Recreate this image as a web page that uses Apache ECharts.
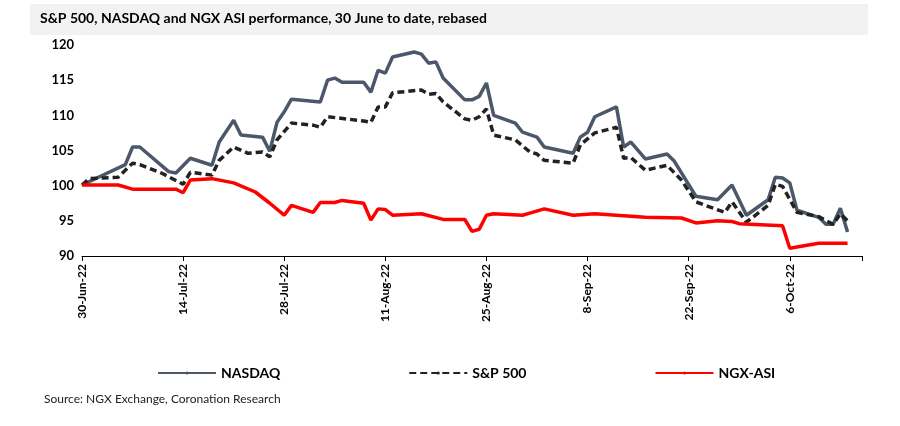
<!DOCTYPE html>
<html><head><meta charset="utf-8">
<script src="https://cdn.jsdelivr.net/npm/echarts@6/dist/echarts.min.js"></script>
<style>html,body{margin:0;padding:0;background:#fff}#c{width:900px;height:426px}</style>
</head><body><div id="c"></div>
<script>
// x = days since 30-Jun-22
const tickLabels = ['30-Jun-22','14-Jul-22','28-Jul-22','11-Aug-22','25-Aug-22','8-Sep-22','22-Sep-22','6-Oct-22'];

const nasdaqDays = [0,6,7,8,12,13,15,18,19,21,22,25,26,27,28,29,33,34,35,36,39,40,41,42,43,46,47,48,49,50,53,54,55,56,57,60,61,63,64,68,69,70,71,74,75,76,78,81,82,85,88,90,92,95,96,97,98,99,102,103,104,105,106];
const nasdaqVals = [100.1,103,105.5,105.5,102,101.8,103.9,102.9,106.2,109.3,107.2,106.9,104.9,109,110.5,112.3,111.9,115,115.3,114.7,114.7,113.3,116.4,116,118.3,119,118.7,117.4,117.6,115.3,112.2,112.2,112.7,114.6,110,108.9,107.6,106.9,105.5,104.6,106.9,107.6,109.8,111.2,105.5,106.2,103.8,104.5,103.5,98.5,98,100.1,95.8,98,101.2,101.1,100.4,96.5,95.5,94.5,94.5,96.8,93.4];

const spDays = [0,1,5,7,8,11,14,15,18,19,21,23,25,26,27,29,32,33,34,39,40,41,42,43,47,48,49,50,53,54,55,56,57,60,62,63,64,68,69,71,74,75,76,78,81,83,85,89,90,92,95,96,97,99,102,104,105,106];
const spVals = [100.1,101,101.2,103.2,103,101.8,100.2,101.9,101.5,103.6,105.5,104.6,104.8,104.1,106.5,108.9,108.6,108.3,109.8,109.2,109,111.2,111.2,113.2,113.6,113,113.1,111.9,109.5,109.3,109.8,110.9,107.2,106.5,104.8,104.5,103.6,103.2,105.8,107.5,108.3,103.9,104,102.2,102.9,100.8,97.7,96.2,97.7,94.8,97.2,100.2,99.9,96.2,95.6,94.5,96,95];

const ngxDays = [0,5,7,13,14,15,18,21,24,26,28,29,32,33,35,36,39,40,41,42,43,47,50,53,54,55,56,57,61,62,64,68,71,78,83,85,88,90,91,97,98,102,106];
const ngxVals = [100.1,100.1,99.5,99.5,99,100.8,101,100.4,99.1,97.5,95.8,97.2,96.2,97.6,97.6,97.9,97.5,95.1,96.7,96.6,95.8,96,95.2,95.2,93.5,93.8,95.8,96,95.8,96.1,96.7,95.8,96,95.5,95.4,94.7,95,94.9,94.6,94.3,91.1,91.8,91.8];

const pairs = (d, v) => d.map((x, i) => [x, v[i]]);
const chart = echarts.init(document.getElementById('c'));
const font = 'Lato, "Open Sans", sans-serif';
chart.setOption({
  animation: false,
  textStyle: { fontFamily: font },
  graphic: [
    { type: 'rect', shape: { x: 30, y: 4, width: 838, height: 31 }, style: { fill: '#f2f2f2' } },
    { type: 'text', left: 40, top: 11, style: { text: 'S&P 500, NASDAQ and NGX ASI performance, 30 June to date, rebased', font: 'bold 14px ' + font, fill: '#000' } },
    { type: 'text', left: 44, top: 393, style: { text: 'Source: NGX Exchange, Coronation Research', font: '12px ' + font, fill: '#222' } }
  ],
  grid: { left: 82, right: 38, top: 45, bottom: 170 },
  xAxis: {
    type: 'value', min: 0, max: 108, interval: 14,
    axisLine: { lineStyle: { color: '#000' } },
    axisTick: { show: true, length: 5, lineStyle: { color: '#000' } },
    splitLine: { show: false },
    axisLabel: { rotate: 90, color: '#000', fontWeight: 'bold', fontSize: 12,
      formatter: v => (v % 14 === 0 && v / 14 < tickLabels.length) ? tickLabels[v / 14] : '' }
  },
  yAxis: {
    type: 'value', min: 90, max: 120, interval: 5,
    axisLine: { show: false }, axisTick: { show: false },
    splitLine: { show: false },
    axisLabel: { color: '#000', fontWeight: 'bold', fontSize: 13 }
  },
  legend: {
    top: 361, left: 152, itemGap: 128, itemWidth: 58, itemHeight: 4,
    textStyle: { fontWeight: 'bold', fontSize: 14, color: '#000' },
    data: ['NASDAQ', 'S&P 500', 'NGX-ASI']
  },
  series: [
    { name: 'NASDAQ', type: 'line', data: pairs(nasdaqDays, nasdaqVals), symbol: 'none',
      lineStyle: { color: '#4a5869', width: 3.5 }, itemStyle: { color: '#4a5869' } },
    { name: 'S&P 500', type: 'line', data: pairs(spDays, spVals), symbol: 'none',
      lineStyle: { color: '#222', width: 3.5, type: [7, 4] }, itemStyle: { color: '#222' } },
    { name: 'NGX-ASI', type: 'line', data: pairs(ngxDays, ngxVals), symbol: 'none',
      lineStyle: { color: '#ff0000', width: 3.5 }, itemStyle: { color: '#ff0000' } }
  ]
});
</script></body></html>
